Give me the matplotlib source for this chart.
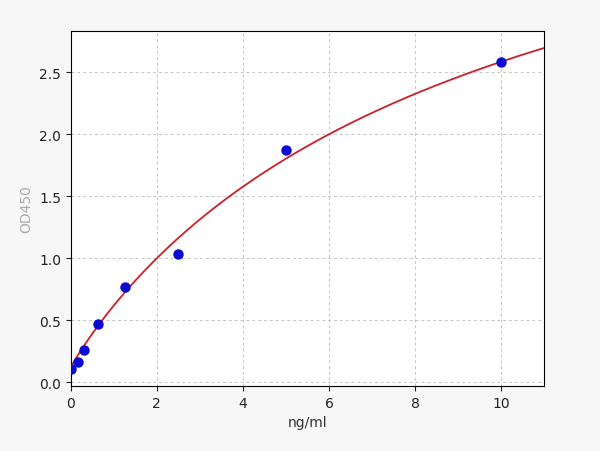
import numpy as np
import matplotlib
matplotlib.use("Agg")
import matplotlib.pyplot as plt

conc = [0, 0.156, 0.3125, 0.625, 1.25, 2.5, 5, 10]
od450 = [0.11, 0.165, 0.26, 0.47, 0.77, 1.035, 1.87, 2.58]

# 4PL fit parameters (bottom, slope, inflection, top)
fit_a, fit_b, fit_c, fit_d = 0.12, 0.95, 9.93, 5.03

fig = plt.figure(figsize=(6, 4.52), dpi=100, facecolor="#f7f7f7")
ax = fig.add_axes([0.118, 0.144, 0.789, 0.785])

xs = np.linspace(0, 11, 400)
ys = fit_d + (fit_a - fit_d) / (1 + (xs / fit_c) ** fit_b)
ax.plot(xs, ys, color="#cc1f2a", lw=1.3, zorder=3)
ax.plot(conc, od450, "o", color="#0a0ad0", ms=6.5, zorder=4)

ax.set_xlim(0, 11)
ax.set_ylim(-0.03, 2.83)
ax.set_xticks([0, 2, 4, 6, 8, 10])
ax.set_yticks([0.0, 0.5, 1.0, 1.5, 2.0, 2.5])
ax.grid(True, linestyle=(0, (3, 3)), color="#c4c4c4", lw=0.7)
ax.set_xlabel("ng/ml", fontsize=10, color="#333333")
ax.set_ylabel("OD450", fontsize=10, color="#aaaaaa")
ax.tick_params(labelsize=10, colors="#222222")

fig.savefig("out.png", dpi=100, facecolor=fig.get_facecolor())
